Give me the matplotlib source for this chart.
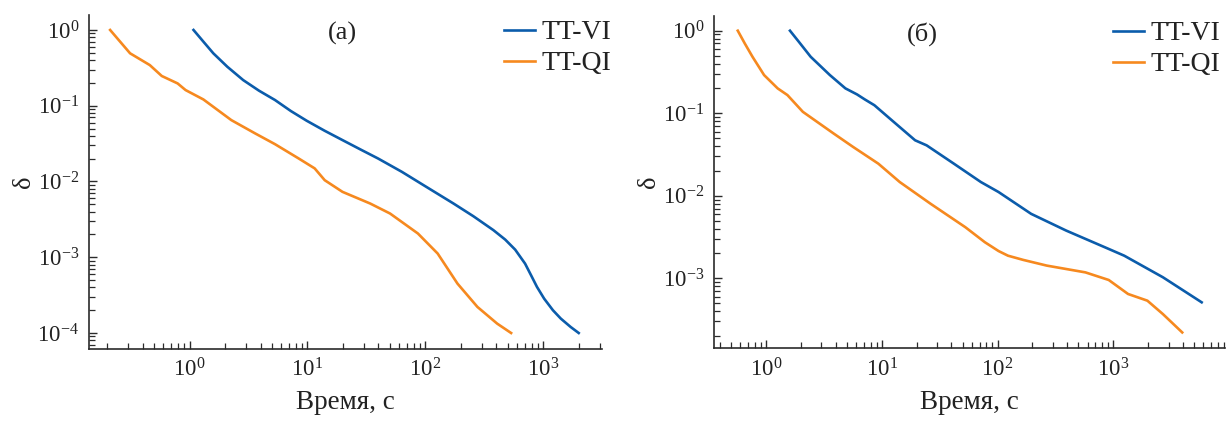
import matplotlib

matplotlib.use("Agg")

import matplotlib.pyplot as plt
from matplotlib.ticker import LogLocator, NullFormatter

plt.rcParams["font.family"] = ["Liberation Serif", "DejaVu Serif"]
plt.rcParams["mathtext.fontset"] = "stix"

BLUE = "#0b5cab"
ORANGE = "#f6891f"
AXIS = "#2b2b2b"

# panel (a)
a_vi_t = [1.08, 1.31, 1.59, 2.09, 2.85, 3.88, 5.30, 7.23, 9.84, 13.96, 19.8, 28.1, 39.7,
          63.2, 98.4, 173, 255, 377, 475, 577, 700, 787, 883, 1016, 1205, 1406, 1706, 1995]
a_vi_d = [1.0, 0.701, 0.492, 0.327, 0.218, 0.158, 0.119, 0.0851, 0.0634, 0.0468, 0.0352,
          0.0265, 0.0201, 0.0134, 0.00877, 0.00512, 0.00348, 0.00228, 0.00171, 0.00126,
          0.000824, 0.000578, 0.000406, 0.000284, 0.0002, 0.000155, 0.00012, 0.0001]
a_qi_t = [0.212, 0.313, 0.460, 0.581, 0.792, 0.925, 1.31, 2.26, 3.60, 5.30, 8.43, 11.5,
          14.0, 19.8, 34.0, 50.1, 86.3, 127, 187, 276, 406, 533]
a_qi_d = [1.0, 0.492, 0.344, 0.247, 0.197, 0.161, 0.121, 0.0646, 0.0431, 0.0311, 0.0201,
          0.0149, 0.0104, 0.0073, 0.00512, 0.00378, 0.00206, 0.00112, 0.000449, 0.000221,
          0.000133, 0.0001]

# panel (б)
b_vi_t = [1.61, 1.92, 2.43, 3.56, 4.85, 6.11, 7.13, 8.63, 12.2, 19.4, 24.4, 41.9, 71.8, 102,
          195, 391, 912, 1242, 2679, 5794]
b_vi_d = [1.0, 0.734, 0.483, 0.290, 0.200, 0.169, 0.147, 0.125, 0.0822, 0.0470, 0.0408,
          0.0245, 0.01466, 0.0111, 0.00604, 0.00379, 0.00227, 0.00188, 0.00103, 0.000512]
b_qi_t = [0.570, 0.655, 0.764, 0.962, 1.26, 1.53, 2.08, 3.85, 5.66, 9.33, 14.3, 26.4, 52.7,
          77.6, 102, 123, 167, 266, 574, 912, 1340, 1968, 2679, 3936]
b_qi_d = [1.0, 0.701, 0.483, 0.290, 0.2, 0.166, 0.104, 0.0566, 0.039, 0.0245, 0.01466,
          0.008, 0.00416, 0.00274, 0.00214, 0.00188, 0.00167, 0.001426, 0.00118, 0.000955,
          0.000646, 0.000536, 0.000369, 0.000221]

labels = ["TT-VI", "TT-QI"]
panels = [
    dict(title="(a)", vi=(a_vi_t, a_vi_d), qi=(a_qi_t, a_qi_d),
         xlim=(10 ** -0.853, 10 ** 3.495), ylim=(10 ** -4.211, 10 ** 0.198),
         rect=[0.0724, 0.173, 0.4172, 0.7915], title_x=0.494, leg_x=0.809),
    dict(title="(б)", vi=(b_vi_t, b_vi_d), qi=(b_qi_t, b_qi_d),
         xlim=(10 ** -0.449, 10 ** 3.963), ylim=(10 ** -3.848, 10 ** 0.178),
         rect=[0.581, 0.1746, 0.4156, 0.7875], title_x=0.407, leg_x=0.781),
]

fig = plt.figure(figsize=(12.29, 4.22), dpi=100)

for p in panels:
    ax = fig.add_axes(p["rect"])
    ax.plot(*p["vi"], color=BLUE, lw=1.9, label=labels[0])
    ax.plot(*p["qi"], color=ORANGE, lw=1.9, label=labels[1])
    ax.set_xscale("log")
    ax.set_yscale("log")
    ax.set_xlim(*p["xlim"])
    ax.set_ylim(*p["ylim"])

    ax.spines["top"].set_visible(False)
    ax.spines["right"].set_visible(False)
    for s in ("left", "bottom"):
        ax.spines[s].set_linewidth(1.2)
        ax.spines[s].set_color(AXIS)

    for axis in (ax.xaxis, ax.yaxis):
        axis.set_major_locator(LogLocator(base=10, numticks=10))
        axis.set_minor_locator(LogLocator(base=10, subs=range(2, 10), numticks=20))
        axis.set_minor_formatter(NullFormatter())
    ax.tick_params(which="both", direction="in", labelsize=16.5, color=AXIS, labelcolor="#222222")
    ax.tick_params(which="major", length=6, width=1.0, pad=7)
    ax.tick_params(which="minor", length=4, width=0.9)

    ax.set_xlabel("Время, с", fontsize=19.5, labelpad=6, color="#222222")
    ax.set_ylabel("δ", fontsize=19, labelpad=2, color="#222222")
    ax.text(p["title_x"], 0.946, p["title"], transform=ax.transAxes,
            ha="center", va="center", fontsize=19, color="#222222")

    leg = ax.legend(loc="upper left", bbox_to_anchor=(p["leg_x"], 0.985), frameon=False,
                    fontsize=20, borderpad=0, borderaxespad=0, handlelength=1.12,
                    handletextpad=0.24, labelspacing=0.2)
    for t in leg.get_texts():
        t.set_color("#222222")

fig.savefig("out.png", dpi=100)
